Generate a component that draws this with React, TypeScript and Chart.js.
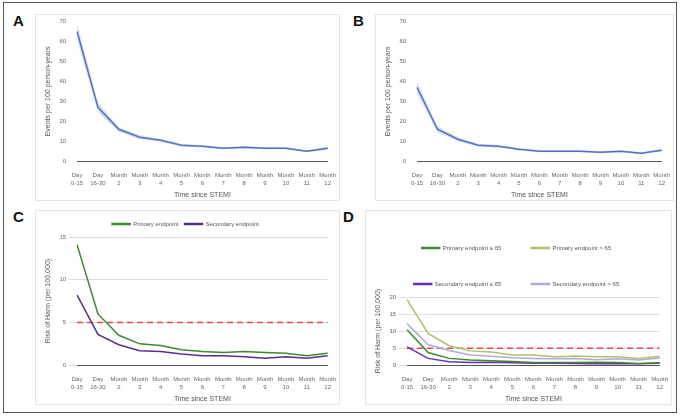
import React, { useEffect, useRef } from "react";
import { Chart, registerables } from "chart.js";
Chart.register(...registerables);

const labels = [["Day","0-15"],["Day","16-30"],["Month","2"],["Month","3"],["Month","4"],["Month","5"],["Month","6"],["Month","7"],["Month","8"],["Month","9"],["Month","10"],["Month","11"],["Month","12"]];
const aMean = [65,27,16,12,10.5,8,7.5,6.5,7,6.5,6.5,5,6.5];
const aLow = [61,24.5,14.8,11,9.7,7.4,6.9,6,6.4,6,5.9,4.5,5.8];
const aHigh = [69,29.5,17.2,13,11.3,8.6,8.1,7,7.6,7,7.1,5.5,7.2];
const bMean = [37,16,11,8,7.5,6,5,5,5,4.5,5,4,5.5];
const bLow = [34,14.5,10,7.3,6.8,5.4,4.5,4.5,4.5,4,4.5,3.5,4.9];
const bHigh = [40,17.5,12,8.7,8.2,6.6,5.5,5.5,5.5,5,5.5,4.5,6.1];
const cPrimary = [14.1,6,3.5,2.5,2.3,1.8,1.6,1.5,1.6,1.5,1.4,1.1,1.4];
const cSecondary = [8.2,3.6,2.4,1.7,1.6,1.3,1.1,1.1,1.0,0.8,1.0,0.8,1.1];
const dPrimLo = [10.4,3.7,2,1.5,1.3,1.1,0.8,0.8,0.8,0.9,0.8,0.5,0.7];
const dPrimHi = [19.2,9.3,5.7,4.2,3.9,3,3,2.5,2.7,2.5,2.5,2,2.6];
const dSecLo = [5.4,2,1,0.8,0.9,0.7,0.6,0.6,0.5,0.4,0.4,0.4,0.6];
const dSecHi = [12.2,6,4.3,3,2.6,2.2,2,1.9,2,1.6,1.9,1.5,2.1];
const threshold = 5;

const F = "Liberation Sans";
const tick = { font: { family: F, size: 6 }, color: "#666" };

function opts(ymax: number, step: number, ytitle: string, legend: boolean, grid: boolean, lpad: number): any {
  return {
    animation: false, responsive: false, maintainAspectRatio: false,
    layout: { padding: { top: 4, right: 8, left: 4 } },
    plugins: {
      legend: { display: legend, labels: { font: { family: F, size: 6 }, color: "#555", boxWidth: 18, boxHeight: 1, padding: lpad, filter: (i: any) => i.text !== "" }, },
      tooltip: { enabled: false },
    },
    elements: { point: { radius: 0 } },
    scales: {
      x: { ticks: { ...tick, maxRotation: 0, autoSkip: false }, grid: { display: false }, border: { color: "#555" },
        title: { display: true, text: "Time since STEMI", font: { family: F, size: 7 }, color: "#555", padding: 1 } },
      y: { min: 0, max: ymax, ticks: { ...tick, stepSize: step }, grid: { display: grid, color: "#ddd" }, border: { display: false },
        title: { display: true, text: ytitle, font: { family: F, size: 7 }, color: "#555" } },
    },
  };
}

function Panel({ cfg, left, top, w, h, letter }: any) {
  const ref = useRef<HTMLCanvasElement>(null);
  useEffect(() => {
    const c = new Chart(ref.current!, cfg);
    return () => c.destroy();
  }, []);
  return (
    <>
      <div style={{ position: "absolute", left: left, top: top, width: w, height: h, border: "1px solid #e4e4e4" }}>
        <canvas ref={ref} width={w} height={h} />
      </div>
      <div style={{ position: "absolute", left: left - 22, top: top - 2, font: `bold 15px ${F}`, color: "#111" }}>{letter}</div>
    </>
  );
}

const band = (mean: number[], lo: number[], hi: number[]) => [
  { label: "", data: hi, borderWidth: 0, backgroundColor: "rgba(120,150,220,0.3)", fill: false },
  { label: "", data: lo, borderWidth: 0, backgroundColor: "rgba(120,150,220,0.3)", fill: "-1" },
  { label: "mean", data: mean, borderColor: "#3f64b5", borderWidth: 1.5, fill: false },
];
const thr = { label: "", data: labels.map(() => threshold), borderColor: "#e04848", borderWidth: 1.5, borderDash: [6, 4], fill: false };

export default function App() {
  const yA = "Events per 100 person-years";
  const yC = "Risk of Harm (per 100,000)";
  return (
    <div style={{ position: "absolute", left: 0, top: 0, width: 680, height: 416, background: "#fff", fontFamily: F }}>
      <div style={{ position: "absolute", left: 3, top: 2, width: 672, height: 409, border: "1.5px solid #555" }} />
      <Panel letter="A" left={35} top={14} w={303} h={185}
        cfg={{ type: "line", data: { labels, datasets: band(aMean, aLow, aHigh) }, options: opts(70, 10, yA, false, false, 5) }} />
      <Panel letter="B" left={375} top={14} w={297} h={185}
        cfg={{ type: "line", data: { labels, datasets: band(bMean, bLow, bHigh) }, options: opts(70, 10, yA, false, false, 5) }} />
      <Panel letter="C" left={35} top={210} w={303} h={193}
        cfg={{ type: "line", data: { labels, datasets: [
          { label: "Primary endpoint", data: cPrimary, borderColor: "#3c8a2e", backgroundColor: "#3c8a2e", borderWidth: 1.5 },
          { label: "Secondary endpoint", data: cSecondary, borderColor: "#5a2d8c", backgroundColor: "#5a2d8c", borderWidth: 1.5 },
          thr] }, options: opts(15, 5, yC, true, true, 6) }} />
      <Panel letter="D" left={365} top={210} w={305} h={193}
        cfg={{ type: "line", data: { labels, datasets: [
          { label: "Primary endpoint ≤ 65", data: dPrimLo, borderColor: "#3c8a2e", backgroundColor: "#3c8a2e", borderWidth: 1.5 },
          { label: "Primary endpoint > 65", data: dPrimHi, borderColor: "#a9c46a", backgroundColor: "#a9c46a", borderWidth: 1.5 },
          { label: "Secondary endpoint ≤ 65", data: dSecLo, borderColor: "#6a2db0", backgroundColor: "#6a2db0", borderWidth: 1.5 },
          { label: "Secondary endpoint > 65", data: dSecHi, borderColor: "#b3a8d6", backgroundColor: "#b3a8d6", borderWidth: 1.5 },
          thr] }, options: opts(20, 5, yC, true, true, 30) }} />
    </div>
  );
}
